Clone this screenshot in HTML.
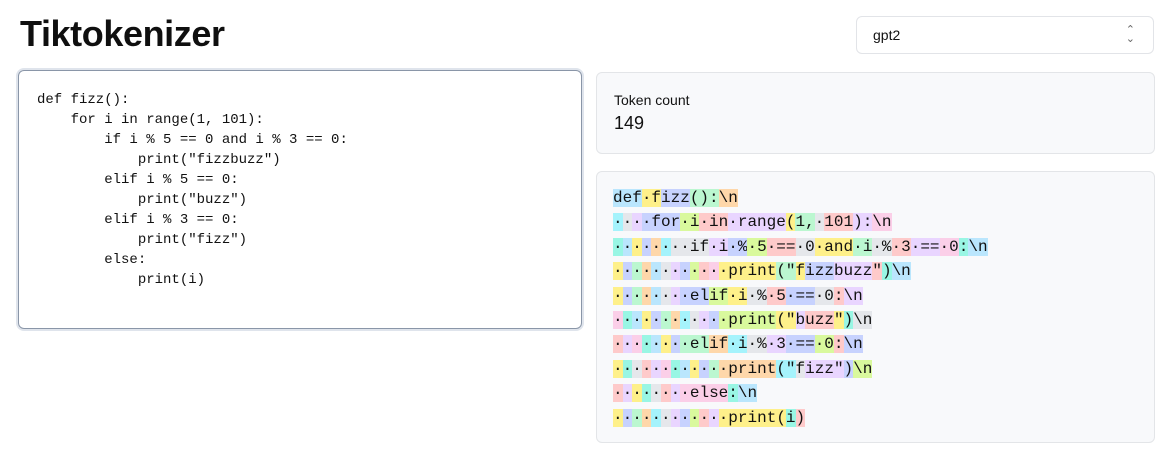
<!DOCTYPE html>
<html><head><meta charset="utf-8"><style>
body{margin:0;width:1170px;height:458px;background:#fff;font-family:"Liberation Sans",sans-serif;position:relative;overflow:hidden}
h1{position:absolute;left:20px;top:13px;margin:0;font-size:36px;font-weight:700;color:#0f0f0f;letter-spacing:-0.4px}
.sel{position:absolute;left:856px;top:16px;width:298px;height:38px;border:1px solid #e2e4e8;border-radius:6px;box-sizing:border-box;font-size:14px;color:#111;padding:10px 16px}
.sel span{position:absolute;right:18px;top:9px;font-size:11px;color:#666;line-height:9px}
.ta{position:absolute;left:18px;top:70px;width:564px;height:259px;box-sizing:border-box;border:1px solid #8a96a8;border-radius:6px;box-shadow:0 0 0 2px #dfe4ec;padding:19px 18px;font-family:"Liberation Mono",monospace;font-size:14px;line-height:20px;white-space:pre;color:#111}
.card{position:absolute;left:596px;width:559px;box-sizing:border-box;border:1px solid #e3e5e8;border-radius:6px;background:#f8f9fb}
.c1{top:72px;height:82px;padding:19px 17px}
.c1 .lab{font-size:14px;color:#111}.c1 .v{font-size:18px;color:#111;margin-top:5px}
.c2{top:171px;height:272px;padding:14px 16px;font-family:"Liberation Mono",monospace;font-size:16px;line-height:24.4px;white-space:pre;color:#111}
.a{background:#c7d2fe}.b{background:#fef08a}.c{background:#bbf7d0}.d{background:#fed7aa}.e{background:#a5f3fc}.f{background:#e5e7eb}.g{background:#e9d5ff}.h{background:#d9f99d}.i{background:#fecaca}.j{background:#fbcfe8}.k{background:#99f6e4}.l{background:#bae6fd}
</style></head><body>
<h1>Tiktokenizer</h1>
<div class="sel">gpt2<span>⌃<br>⌄</span></div>
<div class="ta">def fizz():
    for i in range(1, 101):
        if i % 5 == 0 and i % 3 == 0:
            print("fizzbuzz")
        elif i % 5 == 0:
            print("buzz")
        elif i % 3 == 0:
            print("fizz")
        else:
            print(i)</div>
<div class="card c1"><div class="lab">Token count</div><div class="v">149</div></div>
<div class="card c2"><span class="l">def</span><span class="b">·f</span><span class="a">izz</span><span class="c">():</span><span class="d">\n</span>
<span class="e">·</span><span class="f">·</span><span class="g">·</span><span class="a">·for</span><span class="h">·i</span><span class="i">·in</span><span class="g">·range</span><span class="b">(</span><span class="c">1,</span><span class="f">·</span><span class="i">101</span><span class="g">):</span><span class="j">\n</span>
<span class="k">·</span><span class="l">·</span><span class="b">·</span><span class="a">·</span><span class="d">·</span><span class="e">·</span><span class="f">·</span><span class="f">·if</span><span class="g">·i</span><span class="a">·%</span><span class="h">·5</span><span class="i">·==</span><span class="f">·0</span><span class="b">·and</span><span class="c">·i</span><span class="f">·%</span><span class="i">·3</span><span class="g">·==</span><span class="j">·0</span><span class="k">:</span><span class="l">\n</span>
<span class="b">·</span><span class="a">·</span><span class="c">·</span><span class="d">·</span><span class="l">·</span><span class="f">·</span><span class="g">·</span><span class="a">·</span><span class="h">·</span><span class="i">·</span><span class="j">·</span><span class="b">·print</span><span class="c">("</span><span class="b">f</span><span class="a">izz</span><span class="g">buzz</span><span class="i">"</span><span class="k">)</span><span class="l">\n</span>
<span class="b">·</span><span class="a">·</span><span class="c">·</span><span class="d">·</span><span class="l">·</span><span class="f">·</span><span class="g">·</span><span class="a">·el</span><span class="h">if</span><span class="b">·i</span><span class="f">·%</span><span class="i">·5</span><span class="a">·==</span><span class="f">·0</span><span class="i">:</span><span class="g">\n</span>
<span class="j">·</span><span class="k">·</span><span class="l">·</span><span class="b">·</span><span class="a">·</span><span class="c">·</span><span class="d">·</span><span class="e">·</span><span class="f">·</span><span class="g">·</span><span class="a">·</span><span class="h">·print</span><span class="b">("</span><span class="g">b</span><span class="i">uzz</span><span class="b">"</span><span class="k">)</span><span class="f">\n</span>
<span class="i">·</span><span class="g">·</span><span class="j">·</span><span class="k">·</span><span class="l">·</span><span class="b">·</span><span class="a">·</span><span class="c">·el</span><span class="d">if</span><span class="e">·i</span><span class="f">·%</span><span class="g">·3</span><span class="a">·==</span><span class="h">·0</span><span class="i">:</span><span class="a">\n</span>
<span class="b">·</span><span class="k">·</span><span class="f">·</span><span class="i">·</span><span class="g">·</span><span class="j">·</span><span class="k">·</span><span class="l">·</span><span class="b">·</span><span class="a">·</span><span class="c">·</span><span class="d">·print</span><span class="e">("</span><span class="f">f</span><span class="g">izz</span><span class="g">"</span><span class="a">)</span><span class="h">\n</span>
<span class="i">·</span><span class="g">·</span><span class="b">·</span><span class="k">·</span><span class="f">·</span><span class="i">·</span><span class="g">·</span><span class="j">·else</span><span class="k">:</span><span class="l">\n</span>
<span class="b">·</span><span class="a">·</span><span class="c">·</span><span class="d">·</span><span class="e">·</span><span class="f">·</span><span class="g">·</span><span class="a">·</span><span class="h">·</span><span class="i">·</span><span class="g">·</span><span class="b">·print(</span><span class="k">i</span><span class="i">)</span></div>
</body></html>
